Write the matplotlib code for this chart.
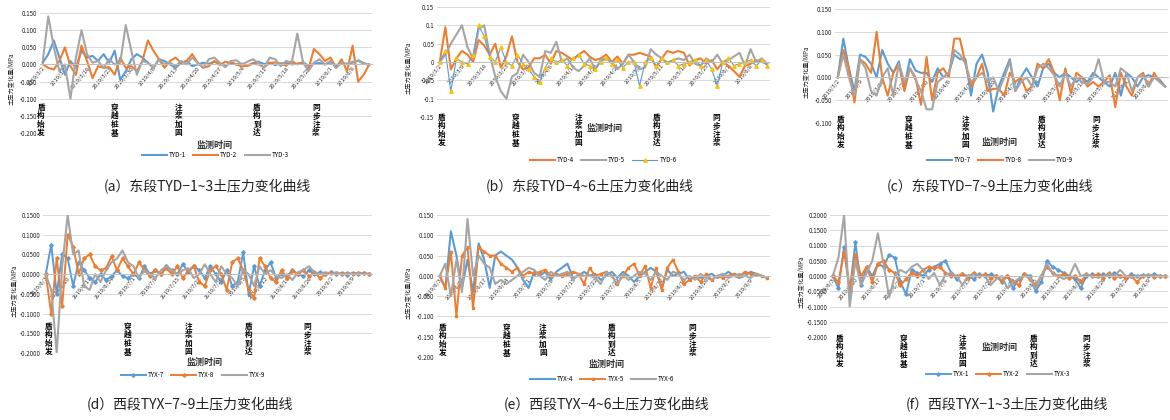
import matplotlib
matplotlib.use("Agg")
import matplotlib.pyplot as plt
import matplotlib.transforms as mtransforms

plt.rcParams['font.family'] = ['Noto Sans CJK SC', 'DejaVu Sans']
plt.rcParams['axes.unicode_minus'] = False

W, H = 1170, 420

BLUE = "#5B9BD5"
ORANGE = "#ED7D31"
GRAY = "#A5A5A5"
YELLOW = "#FFC000"

# ---- data: soil pressure change (MPa) per monitoring step ----
tyd1 = [0.005, 0.030, 0.070, 0.020, -0.030, 0.010, -0.010, 0.040, 0.020, 0.025, 0.010, 0.030, 0.005, 0.040, -0.045,
        -0.020, 0.015, 0.030, 0.020, 0.005, -0.010, 0.015, 0.010, 0.000, -0.010, 0.005, 0.010, -0.005, 0.000, 0.005,
        0.002, 0.008, 0.003, -0.004, 0.006, 0.000, 0.002, -0.003, 0.004, 0.008, 0.001, 0.005, -0.002, 0.003, 0.004,
        0.000, 0.002, 0.006, -0.003, 0.002, 0.004, 0.000, 0.006, -0.002, 0.003, 0.002, 0.005, 0.012, 0.004, -0.002]
tyd2 = [0.000, -0.010, -0.015, 0.010, 0.050, -0.005, -0.030, 0.055, 0.010, -0.040, -0.005, -0.010, -0.008, -0.030, 0.020,
        -0.010, -0.005, -0.020, 0.010, 0.070, 0.040, 0.015, -0.010, 0.010, 0.020, 0.005, 0.010, 0.030, 0.005, -0.010,
        -0.005, 0.010, -0.002, 0.008, 0.004, 0.000, -0.006, -0.004, 0.002, 0.000, -0.008, 0.004, 0.006, 0.002, -0.004,
        0.010, 0.000, 0.005, -0.015, 0.045, 0.030, 0.010, 0.020, -0.010, 0.015, -0.020, 0.055, -0.050, -0.030, 0.000]
tyd3 = [0.010, 0.140, 0.050, -0.020, 0.000, -0.100, 0.020, 0.100, 0.030, 0.005, 0.010, -0.010, 0.015, 0.000, 0.005,
        0.115, 0.040, -0.030, 0.010, 0.005, -0.010, 0.015, 0.000, 0.005, -0.005, 0.010, 0.000, 0.020, 0.005, -0.010,
        0.015, 0.020, 0.005, -0.008, 0.010, 0.012, 0.000, 0.008, 0.015, 0.004, -0.010, 0.020, 0.015, -0.005, 0.010,
        0.005, 0.090, 0.010, -0.020, 0.005, 0.015, 0.000, 0.010, -0.010, 0.005, 0.000, 0.008, 0.010, 0.002, 0.000]

tyd4 = [0.000, 0.095, -0.020, 0.010, 0.030, 0.020, 0.000, 0.060, 0.045, 0.020, 0.050, -0.015, 0.015, 0.070, 0.000,
        -0.020, -0.015, 0.010, 0.010, 0.020, -0.005, 0.030, 0.025, 0.015, 0.005, 0.020, 0.030, 0.015, 0.005, 0.010,
        0.020, 0.000, 0.015, -0.005, 0.020, 0.020, 0.025, 0.020, 0.015, -0.015, 0.010, 0.030, 0.025, 0.030, 0.025,
        -0.010, 0.005, 0.010, -0.005, 0.005, -0.020, 0.000, -0.010, -0.025, -0.040, -0.010, -0.005, 0.005, 0.000, -0.005]
tyd5 = [0.000, 0.020, 0.050, 0.075, 0.100, 0.040, 0.010, 0.090, 0.100, 0.020, -0.040, -0.080, -0.100, -0.040, -0.030,
        0.020, 0.000, -0.030, -0.040, 0.030, 0.025, 0.055, 0.000, 0.010, -0.015, -0.025, -0.010, 0.010, -0.020, 0.005,
        0.010, 0.000, -0.020, -0.005, 0.020, 0.000, -0.020, -0.015, 0.035, 0.020, 0.010, -0.005, 0.005, 0.010, 0.005,
        0.020, -0.005, -0.010, 0.010, 0.000, 0.020, -0.005, 0.005, 0.015, 0.025, -0.010, 0.035, 0.000, 0.010, -0.005]
tyd6 = [0.000, 0.030, -0.080, 0.010, 0.000, -0.005, 0.020, 0.100, 0.070, 0.015, 0.000, 0.040, 0.000, -0.010, 0.020,
        -0.005, -0.020, -0.040, -0.055, -0.015, 0.010, 0.000, 0.005, -0.010, 0.010, 0.020, -0.005, -0.010, -0.020, 0.000,
        0.010, -0.005, 0.005, -0.015, 0.000, 0.000, -0.065, 0.000, 0.010, -0.010, 0.010, 0.000, 0.005, -0.010, -0.005,
        0.000, 0.005, -0.010, 0.005, -0.020, -0.065, 0.000, 0.010, -0.010, -0.005, 0.000, 0.005, -0.010, 0.005, -0.010]

tyd7 = [0.000, 0.085, 0.020, -0.030, 0.050, 0.045, 0.030, 0.000, 0.060, 0.030, 0.010, 0.035, -0.020, 0.040, 0.015,
        0.010, 0.010, -0.010, 0.020, 0.000, 0.010, 0.050, 0.040, 0.040, -0.040, 0.030, 0.050, 0.010, -0.075, -0.020,
        0.010, 0.040, -0.030, 0.000, 0.020, 0.000, -0.020, 0.020, 0.030, 0.010, 0.000, 0.010, 0.000, -0.010, 0.000,
        -0.010, 0.010, 0.000, -0.010, -0.020, 0.010, -0.040, 0.010, 0.000, -0.020, 0.000, 0.005, 0.000, -0.005, -0.020]
tyd8 = [0.000, 0.060, 0.020, -0.055, 0.040, 0.030, 0.010, 0.100, 0.000, -0.040, 0.010, 0.030, -0.030, 0.020, 0.000,
        -0.060, 0.045, -0.050, 0.010, 0.020, 0.000, 0.085, 0.085, 0.030, -0.020, 0.000, 0.030, -0.030, -0.025, -0.025,
        -0.040, 0.010, -0.010, 0.000, -0.030, -0.020, 0.030, 0.020, 0.040, 0.010, -0.050, 0.020, -0.035, 0.010, 0.000,
        -0.020, -0.010, -0.020, -0.010, 0.005, -0.065, 0.010, -0.020, -0.040, 0.000, 0.010, -0.020, 0.010, -0.010, -0.020]
tyd9 = [0.000, 0.050, 0.000, -0.040, 0.040, 0.020, -0.030, -0.040, 0.000, 0.020, -0.040, 0.030, -0.010, 0.020, -0.005,
        -0.030, -0.070, -0.070, -0.010, 0.000, 0.010, 0.060, 0.050, 0.030, -0.010, 0.000, 0.010, -0.010, 0.000, -0.030,
        0.000, 0.035, -0.030, -0.010, 0.000, -0.020, 0.020, 0.030, 0.020, 0.005, -0.020, 0.010, -0.020, 0.000, -0.010,
        -0.015, 0.000, 0.040, -0.010, -0.010, -0.020, 0.020, 0.010, -0.030, 0.000, 0.005, -0.020, 0.000, -0.010, -0.020]

tyx7 = [0.000, 0.075, -0.050, 0.050, 0.040, -0.030, 0.030, 0.010, -0.010, -0.020, 0.000, -0.015, -0.005, 0.010, -0.005,
        -0.010, 0.000, -0.010, 0.020, 0.000, 0.010, 0.000, 0.020, 0.010, 0.000, 0.025, 0.005, 0.020, 0.010, -0.010,
        0.020, 0.000, -0.020, 0.010, -0.030, -0.020, 0.055, -0.050, 0.020, -0.030, 0.010, 0.030, -0.010, 0.000, -0.005,
        0.010, 0.000, -0.005, 0.010, 0.000, 0.005, 0.000, 0.005, 0.000, 0.003, -0.002, 0.003, 0.000, 0.002, 0.000]
tyx8 = [0.000, -0.100, 0.040, -0.080, 0.100, 0.070, 0.000, 0.040, 0.050, 0.020, 0.010, 0.015, 0.045, 0.010, 0.040,
        0.020, 0.000, 0.030, 0.010, -0.005, 0.010, 0.000, 0.015, 0.000, 0.020, -0.010, 0.010, 0.020, -0.020, -0.030,
        0.010, 0.020, 0.000, -0.040, 0.030, 0.040, 0.010, -0.040, -0.060, 0.040, 0.020, -0.010, -0.020, 0.010, -0.010,
        0.008, 0.000, 0.010, -0.005, 0.005, -0.010, 0.000, 0.004, 0.002, 0.000, 0.003, 0.000, 0.004, 0.002, 0.000]
tyx9 = [0.000, -0.040, -0.200, 0.020, 0.150, 0.050, 0.060, -0.030, -0.040, 0.000, -0.020, 0.010, 0.030, 0.040, 0.060,
        0.030, 0.020, -0.010, 0.010, 0.000, -0.010, 0.010, 0.020, 0.010, 0.000, 0.010, 0.015, -0.010, 0.000, 0.025,
        0.000, -0.020, 0.020, 0.000, -0.010, -0.030, 0.010, 0.000, -0.030, 0.020, 0.000, 0.010, -0.005, -0.010, 0.000,
        -0.015, 0.005, 0.010, 0.020, 0.005, 0.000, 0.005, 0.000, 0.005, 0.000, 0.002, 0.000, 0.003, 0.000, 0.002]

tyx4 = [0.000, -0.030, 0.110, 0.050, -0.030, 0.040, -0.040, 0.080, 0.040, -0.030, 0.050, 0.060, 0.050, 0.040, 0.020,
        -0.010, -0.030, 0.010, 0.000, 0.010, -0.010, 0.010, 0.020, 0.030, -0.005, 0.000, 0.010, 0.000, 0.005, -0.010,
        0.000, 0.010, -0.005, 0.010, 0.000, -0.015, 0.000, 0.010, 0.020, 0.010, -0.030, 0.015, 0.000, 0.005, 0.010,
        -0.010, 0.000, -0.005, 0.000, 0.005, -0.005, 0.000, 0.010, 0.000, -0.005, 0.000, 0.010, 0.005, 0.000, -0.005]
tyx5 = [0.000, -0.030, 0.060, -0.100, 0.050, 0.070, -0.080, 0.070, 0.060, 0.050, 0.050, 0.030, 0.020, 0.010, 0.020,
        0.000, 0.010, 0.005, 0.010, 0.015, 0.000, 0.005, 0.000, 0.005, 0.010, 0.005, -0.020, 0.020, 0.000, 0.005,
        0.010, 0.000, -0.020, 0.000, 0.020, 0.030, 0.000, 0.025, -0.030, 0.020, -0.035, 0.020, 0.040, 0.010, -0.020,
        -0.010, 0.000, -0.015, 0.005, -0.010, 0.000, -0.005, 0.000, 0.005, 0.000, 0.010, 0.005, 0.005, 0.000, -0.005]
tyx6 = [0.000, 0.030, -0.050, 0.040, -0.040, 0.140, 0.000, 0.050, 0.030, 0.020, -0.020, -0.010, -0.020, -0.010, 0.000,
        0.010, 0.020, 0.015, 0.000, -0.010, 0.010, 0.000, 0.005, 0.010, -0.010, 0.005, 0.000, 0.000, -0.005, -0.020,
        0.010, 0.000, -0.020, 0.005, -0.010, 0.000, 0.010, 0.005, -0.010, 0.010, 0.000, -0.010, 0.010, 0.005, -0.010,
        0.000, -0.010, 0.005, -0.005, -0.010, 0.000, 0.005, -0.005, 0.000, 0.005, 0.000, -0.005, 0.005, 0.000, -0.005]

tyx1 = [0.000, -0.040, 0.095, -0.050, 0.110, -0.030, 0.030, 0.000, 0.040, 0.030, 0.070, 0.060, -0.020, -0.060, 0.020,
        0.010, 0.000, 0.020, 0.030, 0.040, 0.050, 0.010, -0.010, 0.005, 0.000, -0.010, 0.005, 0.000, 0.005, 0.000,
        -0.020, 0.000, -0.040, -0.010, 0.005, 0.000, -0.050, -0.020, 0.050, 0.030, 0.020, 0.010, 0.000, -0.010, -0.040,
        0.000, 0.005, 0.000, 0.005, 0.000, 0.010, 0.000, -0.005, 0.005, 0.000, 0.003, 0.000, 0.005, 0.000, 0.000]
tyx2 = [0.000, -0.020, 0.080, -0.040, 0.070, 0.000, 0.030, -0.020, 0.040, 0.050, 0.020, 0.010, -0.030, -0.010, 0.010,
        0.000, 0.020, 0.030, 0.025, 0.030, 0.010, 0.000, 0.000, 0.005, -0.005, 0.010, 0.000, 0.005, -0.005, 0.000,
        -0.015, 0.000, -0.020, -0.030, 0.005, -0.010, -0.030, 0.000, 0.030, 0.010, 0.000, 0.005, -0.005, 0.000, -0.020,
        0.005, 0.000, 0.005, -0.005, 0.010, -0.005, 0.000, -0.005, 0.000, -0.020, 0.000, 0.003, -0.003, 0.000, 0.000]
tyx3 = [0.000, 0.060, 0.200, -0.100, 0.050, -0.030, 0.010, 0.050, 0.140, 0.040, -0.070, 0.000, 0.020, 0.010, 0.030,
        0.040, 0.020, -0.010, 0.010, -0.030, 0.005, 0.010, 0.000, -0.030, 0.000, 0.005, 0.000, 0.000, -0.030, -0.010,
        0.000, -0.040, -0.020, -0.010, 0.000, -0.005, -0.040, 0.000, 0.040, 0.010, 0.000, -0.010, 0.000, 0.040, 0.000,
        0.005, 0.000, -0.005, 0.000, 0.005, 0.000, 0.020, 0.000, -0.005, 0.000, 0.000, 0.005, 0.000, 0.000, 0.000]

# monitoring dates shown on the category axis (every 4th step)
dates_east = ["2019/3/2", "2019/3/9", "2019/3/16", "2019/3/23", "2019/3/30", "2019/4/6", "2019/4/13", "2019/4/20",
              "2019/4/27", "2019/5/4", "2019/5/11", "2019/5/18", "2019/5/25", "2019/6/1", "2019/6/8"]
dates_west = ["2019/6/3", "2019/6/10", "2019/6/17", "2019/6/24", "2019/7/1", "2019/7/8", "2019/7/15", "2019/7/22",
              "2019/7/29", "2019/8/5", "2019/8/12", "2019/8/19", "2019/8/26", "2019/9/2", "2019/9/9"]

# construction stages marked under the axis
stages = ["盾构始发", "穿越桩基", "注浆加固", "盾构到达", "同步注浆"]
stage_pos_a = [-0.3, 13, 24.5, 38.7, 49.4]
stage_pos_b = [0.4, 13.6, 25, 39, 49.8]
stage_pos_c = [0.5, 12.8, 23, 36.7, 46.5]
stage_pos_d = [0.5, 15, 26, 37, 47.7]
stage_pos_e = [0.5, 12, 18.6, 31, 45.5]
stage_pos_f = [1.2, 12.6, 23, 35.6, 45]

# panel definitions: (box px l, r, top, bottom), y ticks, tick format, series
panels = [
    dict(box=(40, 372, 13, 133), yt=[0.15, 0.10, 0.05, 0.0, -0.05, -0.10, -0.15, -0.20], fmt="{:.3f}",
         series=[("TYD-1", tyd1, BLUE, None), ("TYD-2", tyd2, ORANGE, None), ("TYD-3", tyd3, GRAY, None)],
         dates=dates_east, stage_x=stage_pos_a, stage_y=103, title_xy=(215, 145), leg_xy=(215, 155),
         caption="(a）东段TYD−1~3土压力变化曲线", cap_xy=(207, 187)),
    dict(box=(437, 770, 7, 117), yt=[0.15, 0.10, 0.05, 0.0, -0.05, -0.10, -0.15], fmt="g",
         series=[("TYD-4", tyd4, ORANGE, None), ("TYD-5", tyd5, GRAY, None), ("TYD-6", tyd6, BLUE, "yellow")],
         dates=dates_east, stage_x=stage_pos_b, stage_y=113, title_xy=(605, 128), leg_xy=(603, 160),
         caption="(b）东段TYD−4~6土压力变化曲线", cap_xy=(590, 187)),
    dict(box=(835, 1168, 9, 123), yt=[0.15, 0.10, 0.05, 0.0, -0.05, -0.10], fmt="{:.3f}",
         series=[("TYD-7", tyd7, BLUE, None), ("TYD-8", tyd8, ORANGE, None), ("TYD-9", tyd9, GRAY, None)],
         dates=dates_east, stage_x=stage_pos_c, stage_y=115, title_xy=(1000, 142), leg_xy=(1000, 160),
         caption="(c）东段TYD−7~9土压力变化曲线", cap_xy=(990, 187)),
    dict(box=(43, 372, 215, 353), yt=[0.15, 0.10, 0.05, 0.0, -0.05, -0.10, -0.15, -0.20], fmt="{:.4f}",
         series=[("TYX-7", tyx7, BLUE, "D"), ("TYX-8", tyx8, ORANGE, "D"), ("TYX-9", tyx9, GRAY, None)],
         dates=dates_west, stage_x=stage_pos_d, stage_y=322, title_xy=(205, 362), leg_xy=(193, 375),
         caption="(d）西段TYX−7~9土压力变化曲线", cap_xy=(190, 405)),
    dict(box=(437, 770, 215, 357), yt=[0.15, 0.10, 0.05, 0.0, -0.05, -0.10, -0.15, -0.20], fmt="{:.3f}",
         series=[("TYX-4", tyx4, BLUE, None), ("TYX-5", tyx5, ORANGE, "s"), ("TYX-6", tyx6, GRAY, None)],
         dates=dates_west, stage_x=stage_pos_e, stage_y=323, title_xy=(607, 364), leg_xy=(602, 379),
         caption="(e）西段TYX−4~6土压力变化曲线", cap_xy=(607, 405)),
    dict(box=(830, 1168, 215, 337), yt=[0.20, 0.15, 0.10, 0.05, 0.0, -0.05, -0.10, -0.15, -0.20], fmt="{:.4f}",
         series=[("TYX-1", tyx1, BLUE, "D"), ("TYX-2", tyx2, ORANGE, "D"), ("TYX-3", tyx3, GRAY, None)],
         dates=dates_west, stage_x=stage_pos_f, stage_y=334, title_xy=(1000, 347), leg_xy=(998, 374),
         caption="(f）西段TYX−1~3土压力变化曲线", cap_xy=(1007, 405)),
]

fig = plt.figure(figsize=(W / 100, H / 100), dpi=100)
fig.patch.set_facecolor("white")


def fx(px):
    return px / W


def fy(py):
    return 1 - py / H


for p in panels:
    l, r, t, b = p["box"]
    ax = fig.add_axes([fx(l), fy(b), fx(r - l), (b - t) / H])
    ax.set_facecolor("white")
    n = len(p["series"][0][1])
    x = list(range(n))
    for name, vals, col, mk in p["series"]:
        if mk == "yellow":
            ax.plot(x, vals, color=col, lw=0.8, marker="^", ms=2.5, mfc=YELLOW, mec=YELLOW, label=name)
        elif mk is not None:
            ax.plot(x, vals, color=col, lw=1.4, marker=mk, ms=1.8, label=name)
        else:
            ax.plot(x, vals, color=col, lw=1.5, label=name)

    yt = p["yt"]
    ax.set_ylim(min(yt), max(yt))
    ax.set_xlim(-0.5, n - 0.5)
    ax.set_yticks(yt)
    if p["fmt"] == "g":
        ax.set_yticklabels(["{:g}".format(v) for v in yt])
    else:
        ax.set_yticklabels([p["fmt"].format(v) for v in yt])
    ax.grid(axis="y", color="#D9D9D9", lw=0.7)
    ax.set_axisbelow(True)
    for s in ["top", "right", "left"]:
        ax.spines[s].set_visible(False)
    ax.spines["bottom"].set_position(("data", 0))
    ax.spines["bottom"].set_color("#BFBFBF")
    ax.spines["bottom"].set_linewidth(0.7)
    ax.tick_params(axis="y", length=0, labelsize=4.5, pad=2, labelcolor="#222222")
    ax.tick_params(axis="x", length=0, labelsize=4.2, pad=1, labelcolor="#333333")
    ax.set_xticks(range(0, n, 4))
    ax.set_xticklabels(p["dates"], rotation=50, ha="right", va="top", rotation_mode="anchor")

    ax.text(-0.085, 0.45, "土压力变化量/MPa", rotation=90, transform=ax.transAxes,
            fontsize=4.5, ha="center", va="center", color="#222222")

    # stage notes, stacked vertically
    tr = mtransforms.blended_transform_factory(ax.transData, fig.transFigure)
    for sx, word in zip(p["stage_x"], stages):
        ax.text(sx, fy(p["stage_y"]), "\n".join(word), transform=tr, fontsize=5.5, fontweight="bold",
                ha="center", va="top", linespacing=0.9, color="black", clip_on=False)

    fig.text(fx(p["title_xy"][0]), fy(p["title_xy"][1]), "监测时间", fontsize=6.5, fontweight="bold",
             ha="center", va="center", color="#333333")
    ax.legend(loc="center", bbox_to_anchor=(fx(p["leg_xy"][0]), fy(p["leg_xy"][1])),
              bbox_transform=fig.transFigure, ncol=3, frameon=False, fontsize=4.5,
              handlelength=4, columnspacing=1.2, handletextpad=0.3)
    fig.text(fx(p["cap_xy"][0]), fy(p["cap_xy"][1]), p["caption"], fontsize=10,
             ha="center", va="center", color="#222222")

fig.savefig("out.png", dpi=100, facecolor="white")
